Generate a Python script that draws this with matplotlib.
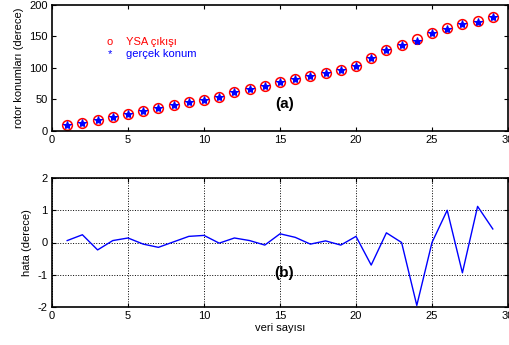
import matplotlib
matplotlib.use("Agg")
import matplotlib.pyplot as plt

plt.rcParams['font.family'] = ['Liberation Sans', 'DejaVu Sans']
plt.rcParams['axes.unicode_minus'] = False

# veri
veri = list(range(1, 30))
gercek = [9.5, 12.2, 17.5, 21.7, 27.5, 31.7, 36.0, 41.3, 46.0, 49.2,
          54.5, 61.4, 66.7, 72.0, 77.2, 82.5, 87.8, 92.6, 96.8, 103.7,
          116.0, 128.0, 136.5, 143.0, 156.0, 162.0, 170.0, 173.0, 180.4]
ysa = [9.6, 12.4, 17.3, 21.8, 27.6, 31.6, 35.9, 41.3, 46.2, 49.4,
       54.5, 61.5, 66.8, 71.9, 77.5, 82.7, 87.7, 92.7, 96.7, 103.9,
       115.3, 128.3, 136.5, 145.5, 156.0, 163.0, 169.1, 174.1, 180.8]
hata = [0.06, 0.24, -0.23, 0.06, 0.14, -0.05, -0.15, 0.02, 0.19, 0.22,
        -0.02, 0.14, 0.06, -0.08, 0.27, 0.16, -0.05, 0.05, -0.08, 0.19,
        -0.70, 0.30, 0.0, -1.95, 0.0, 1.0, -0.94, 1.12, 0.42]

fig = plt.figure(figsize=(5.1, 3.45), dpi=100)
W, H = 510, 345
ax1 = fig.add_axes([52 / W, 1 - 131 / H, 456 / W, 126 / H])
ax2 = fig.add_axes([52 / W, 1 - 307 / H, 456 / W, 129 / H])

ax1.plot(veri, ysa, 'o', mfc='none', mec='red', ms=7, mew=1.1)
ax1.plot(veri, gercek, '*', color='blue', ms=6, mew=0.8)
ax1.set_xlim(0, 30)
ax1.set_ylim(0, 200)
ax1.set_xticks(range(0, 31, 5))
ax1.set_yticks(range(0, 201, 50))
ax1.set_ylabel('rotor konumları (derece)', fontsize=8)
# legend (MATLAB-style, renkli metin)
ax1.text(3.8, 142, 'o', color='red', fontsize=8, ha='center', va='center')
ax1.text(4.9, 142, 'YSA çıkışı', color='red', fontsize=8, va='center')
ax1.text(3.8, 122, '*', color='blue', fontsize=8, ha='center', va='center')
ax1.text(4.9, 122, 'gerçek konum', color='blue', fontsize=8, va='center')
ax1.text(15.3, 43, '(a)', fontsize=11, fontweight='bold', ha='center', va='center')

ax2.plot(veri, hata, color='blue', lw=1.0)
ax2.set_xlim(0, 30)
ax2.set_ylim(-2, 2)
ax2.set_xticks(range(0, 31, 5))
ax2.set_yticks(range(-2, 3))
ax2.grid(True, color='black', linestyle=':', linewidth=0.7)
ax2.set_ylabel('hata (derece)', fontsize=8)
ax2.set_xlabel('veri sayısı', fontsize=8, labelpad=1)
ax2.text(15.3, -0.95, '(b)', fontsize=11, fontweight='bold', ha='center', va='center')

for ax in (ax1, ax2):
    ax.tick_params(direction='in', length=3, labelsize=8, top=True, right=True,
                   pad=3)
    for s in ax.spines.values():
        s.set_linewidth(1.2)

fig.savefig('out.png', dpi=100)
